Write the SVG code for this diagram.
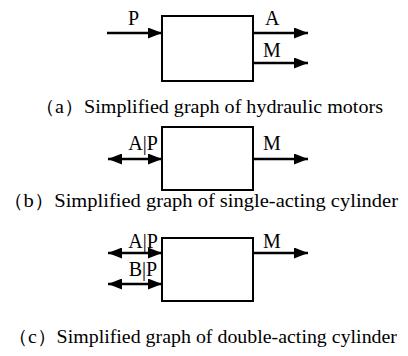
<svg xmlns="http://www.w3.org/2000/svg" width="408" height="356" viewBox="0 0 408 356">
<defs>
<marker id="ah" viewBox="0 0 14 11" refX="14" refY="5.5" markerWidth="14" markerHeight="11" markerUnits="userSpaceOnUse" orient="auto-start-reverse">
<path d="M0,0 L14,5.5 L0,11 z" fill="#000"/>
</marker>
<style>
.box{fill:#fff;stroke:#000;stroke-width:2}
.ln{stroke:#000;stroke-width:2.4;fill:none}
.lb{font-size:20px;fill:#000}
.cap{font-size:19px;fill:#000}
</style>
</defs>
<rect width="408" height="356" fill="#fff"/>
<g id="connectors">
<line class="ln" x1="107" y1="33" x2="162" y2="33" marker-end="url(#ah)"/>
<line class="ln" x1="253" y1="33" x2="308" y2="33" marker-end="url(#ah)"/>
<line class="ln" x1="253" y1="63" x2="308" y2="63" marker-end="url(#ah)"/>
<line class="ln" x1="108" y1="159" x2="162" y2="159" marker-start="url(#ah)" marker-end="url(#ah)"/>
<line class="ln" x1="253" y1="159" x2="308" y2="159" marker-end="url(#ah)"/>
<line class="ln" x1="108" y1="253" x2="162" y2="253" marker-start="url(#ah)" marker-end="url(#ah)"/>
<line class="ln" x1="108" y1="284" x2="162" y2="284" marker-start="url(#ah)" marker-end="url(#ah)"/>
<line class="ln" x1="253" y1="253" x2="308" y2="253" marker-end="url(#ah)"/>
</g>
<g id="motor">
<rect class="box" x="162" y="16" width="91" height="65"/>
<text class="lb" font-family="Liberation Serif" x="128" y="25">P</text>
<text class="lb" font-family="Liberation Serif" x="265" y="25">A</text>
<text class="lb" font-family="Liberation Serif" x="263" y="57">M</text>
</g>
<g id="single-cylinder">
<rect class="box" x="162" y="127" width="91" height="63"/>
<text class="lb" font-family="Liberation Serif" x="143" y="150" text-anchor="middle">A|P</text>
<text class="lb" font-family="Liberation Serif" x="263" y="150">M</text>
</g>
<g id="double-cylinder">
<rect class="box" x="162" y="238" width="91" height="63"/>
<text class="lb" font-family="Liberation Serif" x="143" y="248" text-anchor="middle">A|P</text>
<text class="lb" font-family="Liberation Serif" x="143" y="276" text-anchor="middle">B|P</text>
<text class="lb" font-family="Liberation Serif" x="263" y="248">M</text>
</g>
<text class="cap" font-family="Liberation Serif" x="35" y="113" textLength="348" lengthAdjust="spacingAndGlyphs">（a）Simplified graph of hydraulic motors</text>
<text class="cap" font-family="Liberation Serif" x="3" y="207" textLength="395" lengthAdjust="spacingAndGlyphs">（b）Simplified graph of single-acting cylinder</text>
<text class="cap" font-family="Liberation Serif" x="8" y="343" textLength="389" lengthAdjust="spacingAndGlyphs">（c）Simplified graph of double-acting cylinder</text>
</svg>
